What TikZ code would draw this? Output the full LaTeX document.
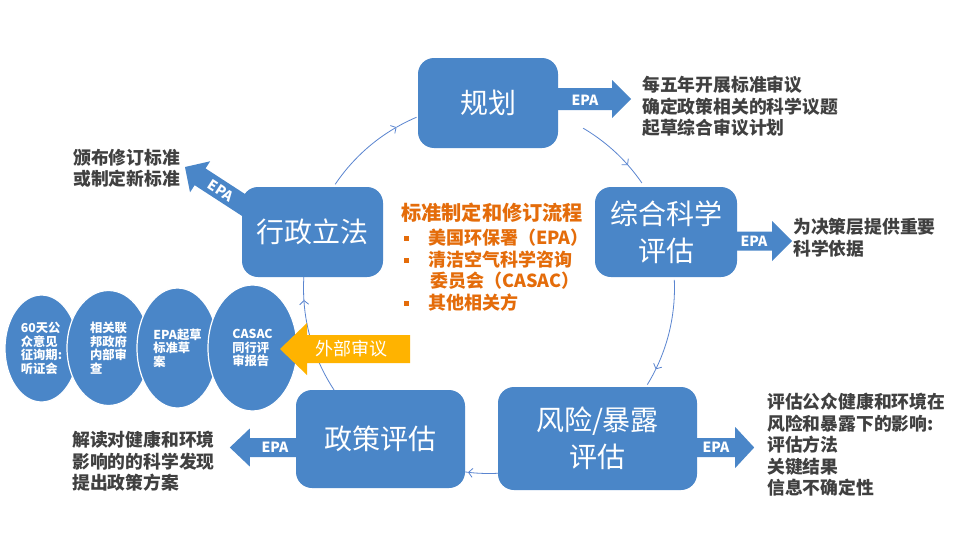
\documentclass[tikz,border=0pt]{standalone}
\usepackage{fontspec}
\newfontfamily\cjk{Noto Sans CJK SC}
\usetikzlibrary{arrows.meta,calc,shapes.geometric}
\definecolor{boxblue}{HTML}{4A86C8}
\definecolor{txtgray}{HTML}{404040}
\definecolor{orangetxt}{HTML}{E46C0A}
\definecolor{arrowyellow}{HTML}{FFB300}
\definecolor{arcblue}{HTML}{5A85D0}
\newcommand\cyclearc[3]{%
  \draw[arcline,-{Straight Barb[length=4pt,width=9pt]}] ([shift={(#1:185.5)}]c) arc[start angle=#1,end angle=#2,radius=185.5];
  \draw[arcline] ([shift={(#2:185.5)}]c) arc[start angle=#2,end angle=#3,radius=185.5];}
\begin{document}
\begin{tikzpicture}[x=1pt,y=1pt,font=\cjk,
  stagebox/.style={rectangle,rounded corners=16pt,fill=boxblue,text=white,
    font=\cjk\fontsize{28}{37}\selectfont,align=center,inner sep=0pt},
  sidetext/.style={text=txtgray,font=\cjk\bfseries\fontsize{17.8}{21.5}\selectfont,
    align=left,anchor=west,inner sep=0pt},
  epalabel/.style={text=white,font=\cjk\bfseries\fontsize{14}{15}\selectfont,inner sep=0pt},
  oval/.style={ellipse,fill=boxblue,draw=white,line width=1.2pt,text=white,inner sep=0pt,
    font=\cjk\bfseries\fontsize{12.3}{13.6}\selectfont,align=left},
  orangeitem/.style={text=orangetxt,font=\cjk\bfseries\fontsize{18}{21}\selectfont,anchor=west,inner sep=0pt},
  arcline/.style={draw=arcblue,line width=0.8pt},
  bulletsq/.style={fill=orangetxt,minimum size=5pt,inner sep=0pt,rectangle}]
\fill[white] (0,0) rectangle (975,-546);
\useasboundingbox (0,0) rectangle (975,-546);

% cycle circle
\coordinate (c) at (489,-288);
\cyclearc{146}{119.9}{113}
\cyclearc{59.5}{41.5}{34.5}
\cyclearc{2.5}{-26}{-31.4}
\cyclearc{-87.2}{-96.5}{-97.4}
\cyclearc{213.4}{183.7}{176.6}

% diagonal EPA arrow from admin box
\begin{scope}[shift={(185,-167)},rotate=-33]
  \fill[boxblue] (0,0) -- (18,18.5) -- (18,10) -- (95,10) -- (95,-10) -- (18,-10) -- (18,-18.5) -- cycle;
  \node[epalabel,rotate=-33] (epa5) at (43,0) {EPA};
\end{scope}

% stage boxes
\node[stagebox,minimum width=140pt,minimum height=90pt] (plan) at (488,-103) {规划};
\node[stagebox,minimum width=142pt,minimum height=90pt] (synth) at (666,-232) {综合科学\\评估};
\node[stagebox,minimum width=199pt,minimum height=103pt] (risk) at (597.5,-438.5) {风险/暴露\\评估};
\node[stagebox,minimum width=169pt,minimum height=98pt] (policy) at (380.5,-439) {政策评估};
\node[stagebox,minimum width=141pt,minimum height=90pt] (admin) at (312.5,-232) {行政立法};

% EPA block arrows
\fill[boxblue] ([yshift=15pt]plan.east) -- ++(54,0) -- ++(0,8) -- ++(19,-19) -- ++(-19,-19) -- ++(0,8) -- ++(-54,0) -- cycle;
\node[epalabel] (epa1) at (585,-100) {EPA};
\fill[boxblue] ([yshift=0.5pt]synth.east) -- ++(35,0) -- ++(0,10.5) -- ++(20,-20) -- ++(-20,-20) -- ++(0,10.5) -- ++(-35,0) -- cycle;
\node[epalabel] (epa2) at (754,-241) {EPA};
\fill[boxblue] ([yshift=0.5pt]risk.east) -- ++(38,0) -- ++(0,11) -- ++(19,-20.5) -- ++(-19,-20.5) -- ++(0,11) -- ++(-38,0) -- cycle;
\node[epalabel] (epa3) at (716,-447) {EPA};
\fill[boxblue] ([yshift=1pt]policy.west) -- ++(-46,0) -- ++(0,9.5) -- ++(-20,-19) -- ++(20,-19) -- ++(0,9.5) -- ++(46,0) -- cycle;
\node[epalabel] (epa4) at (275,-447) {EPA};

% side texts
\node[sidetext] (t1) at (642,-106.5) {每五年开展标准审议\\确定政策相关的科学议题\\起草综合审议计划};
\node[sidetext] (t2) at (793,-237.5) {为决策层提供重要\\科学依据};
\node[sidetext] (t3) at (767,-445) {评估公众健康和环境在\\风险和暴露下的影响:\\评估方法\\关键结果\\信息不确定性};
\node[sidetext] (t4) at (72,-461.5) {解读对健康和环境\\影响的的科学发现\\提出政策方案};
\node[sidetext] (t5) at (73,-168.5) {颁布修订标准\\或制定新标准};

% centre orange text
\node[orangeitem,font=\cjk\bfseries\fontsize{20.2}{22}\selectfont] (otitle) at (401,-213) {标准制定和修订流程};
\node[bulletsq] (b1) at (406,-238) {};
\node[orangeitem] (o1) at (428,-238) {美国环保署（EPA）};
\node[bulletsq] (b2) at (406,-260) {};
\node[orangeitem] (o2) at (428,-260) {清洁空气科学咨询};
\node[orangeitem] (o3) at (430,-281) {委员会（CASAC）};
\node[bulletsq] (b3) at (406,-303) {};
\node[orangeitem] (o4) at (428,-303) {其他相关方};

% review ellipses
\node[oval,minimum width=73pt,minimum height=107pt] (e1) at (41.5,-348.5) {60天公\\众意见\\征询期:\\听证会};
\node[oval,minimum width=83pt,minimum height=115pt] (e2) at (108.5,-348) {相关联\\邦政府\\内部审\\查};
\node[oval,minimum width=81pt,minimum height=120pt] (e3) at (177.5,-348) {EPA起草\\标准草\\案};
\node[oval,minimum width=89pt,minimum height=126pt] (e4) at (252.5,-348) {CASAC\\同行评\\审报告};

% external review arrow
\coordinate (ytail) at (410,-349);
\fill[arrowyellow] ([yshift=14pt]ytail) -- ++(-103,0) -- ++(0,12) -- ++(-27,-26) -- ++(27,-26) -- ++(0,12) -- ++(103,0) -- cycle;
\node[text=white,font=\cjk\fontsize{18}{20}\selectfont,inner sep=0pt] (ext) at (351,-349) {外部审议};
\end{tikzpicture}
\end{document}
